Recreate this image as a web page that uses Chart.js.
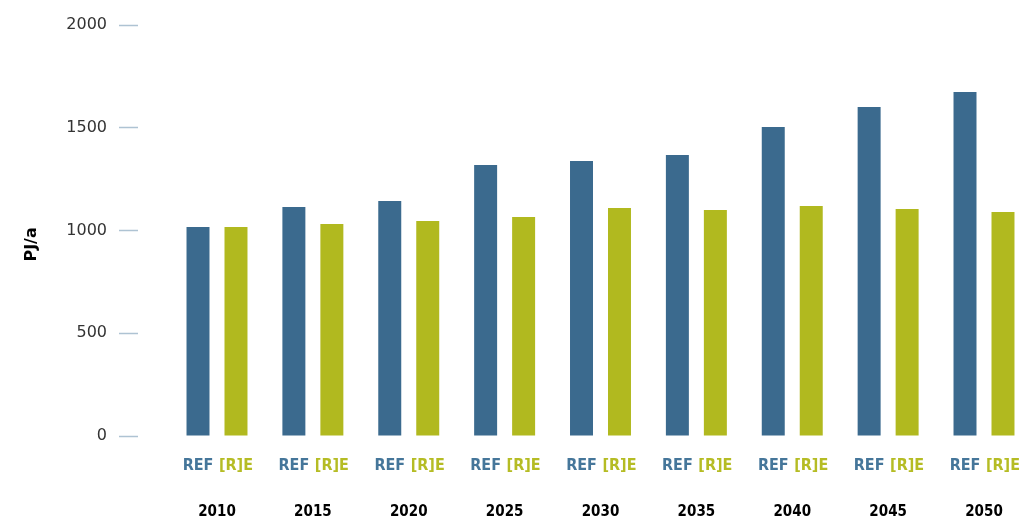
<!DOCTYPE html>
<html>
<head>
<meta charset="utf-8">
<script src="https://cdn.jsdelivr.net/npm/chart.js@4/dist/chart.umd.min.js"></script>
<style>
html,body{margin:0;padding:0;background:#fff;overflow:hidden;}
#wrap{width:1020px;height:517px;position:relative;}
</style>
</head>
<body>
<div id="wrap"><canvas id="c"></canvas></div>
<script>
const years = ['2010','2015','2020','2025','2030','2035','2040','2045','2050'];
const refValues = [1017, 1114, 1143, 1319, 1338, 1367, 1504, 1601, 1674];
const reValues = [1017, 1032, 1046, 1066, 1109, 1100, 1119, 1105, 1090];
const seriesNames = ['REF', '[R]E'];
const yTicks = [0, 500, 1000, 1500, 2000];
const yTitle = 'PJ/a';

const BLUE = '#3b6a8e';
const GREEN = '#b1b91f';

const barLabelPlugin = {
  id: 'barLabels',
  afterDraw(chart) {
    const ctx = chart.ctx;
    ctx.save();
    ctx.font = "bold 16px 'DejaVu Sans Condensed', 'DejaVu Sans', sans-serif";
    ctx.textAlign = 'center';
    ctx.textBaseline = 'middle';
    chart.data.datasets.forEach((ds, i) => {
      const meta = chart.getDatasetMeta(i);
      ctx.fillStyle = ds.labelColor;
      meta.data.forEach(el => {
        ctx.fillText(ds.label, el.x, 466);
      });
    });
    ctx.restore();
  }
};

new Chart(document.getElementById('c'), {
  type: 'bar',
  data: {
    labels: years,
    datasets: [
      { label: seriesNames[0], data: refValues, backgroundColor: BLUE, labelColor: '#45769a', clip: false,
        categoryPercentage: 0.7925, barPercentage: 0.605 },
      { label: seriesNames[1], data: reValues, backgroundColor: GREEN, labelColor: '#b5bc24', clip: false,
        categoryPercentage: 0.7925, barPercentage: 0.605 }
    ]
  },
  options: {
    responsive: true,
    maintainAspectRatio: false,
    animation: false,
    layout: { padding: { top: 25, right: 36, bottom: 0, left: 0 } },
    plugins: { legend: { display: false }, tooltip: { enabled: false } },
    scales: {
      x: {
        offset: false,
        afterFit(scale) { scale.height = 81; scale.paddingLeft = 0; scale.paddingRight = 0; },
        grid: { display: false, drawTicks: false },
        border: { display: false },
        ticks: {
          color: '#000',
          padding: 67,
          maxRotation: 0,
          autoSkip: false,
          font: { family: "'DejaVu Sans Condensed', 'DejaVu Sans', sans-serif", size: 15, weight: 'bold' }
        }
      },
      y: {
        min: 0,
        max: 2000,
        afterFit(scale) { scale.width = 217; },
        afterBuildTicks(scale) { scale.ticks = yTicks.map(v => ({ value: v })); },
        grid: {
          display: true,
          drawOnChartArea: false,
          drawTicks: true,
          tickLength: 98,
          tickColor: '#aec3d3',
          tickWidth: 1.5,
          tickBorderDash: [19, 300]
        },
        border: { display: false },
        ticks: {
          color: '#333',
          padding: 12,
          callback: v => String(v),
          font: { family: "'DejaVu Sans', sans-serif", size: 16 }
        },
        title: {
          display: true,
          text: yTitle + '     ',
          color: '#000',
          padding: { top: 22, bottom: 0 },
          font: { family: "'DejaVu Sans', sans-serif", size: 16, weight: 'bold' }
        }
      }
    }
  },
  plugins: [barLabelPlugin]
});
</script>
</body>
</html>
